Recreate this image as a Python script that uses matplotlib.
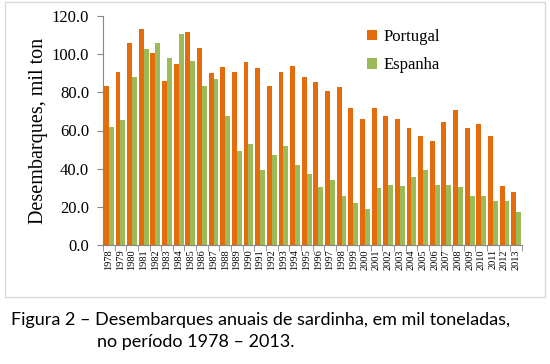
import numpy as np
import matplotlib.pyplot as plt
from matplotlib.patches import Rectangle

# Sardine landings, thousand tonnes
years = [str(y) for y in range(1978, 2014)]
portugal = [83.3, 90.8, 106.0, 113.0, 100.4, 86.0, 95.0, 111.6, 103.0, 90.0,
            93.1, 90.9, 96.0, 92.5, 83.2, 90.6, 94.0, 87.8, 85.5, 80.9,
            82.7, 71.7, 66.1, 71.7, 67.7, 66.1, 61.5, 57.3, 54.5, 64.3,
            70.6, 61.5, 63.3, 57.0, 31.1, 28.0]
espanha = [61.8, 65.7, 88.0, 102.7, 106.0, 97.8, 110.6, 96.4, 83.5, 87.2,
           67.6, 49.5, 52.8, 39.3, 46.9, 51.9, 41.8, 37.2, 30.6, 34.3,
           25.5, 21.9, 19.1, 29.7, 31.5, 31.1, 35.7, 39.3, 31.5, 31.5,
           30.2, 25.5, 25.5, 22.9, 22.9, 17.3]
yticks = [0, 20, 40, 60, 80, 100, 120]

orange = '#E46C0A'
green = '#9BBB59'
serif = 'Liberation Serif'

fig = plt.figure(figsize=(5.5, 3.64), dpi=100)

# chart frame
fig.patches.append(Rectangle((5/550, 1 - 297/364), 540/550, 295/364,
                             transform=fig.transFigure, fill=False,
                             edgecolor='#D9D9D9', linewidth=1))

ax = fig.add_axes([103/550, 1 - 245/364, 419/550, 229/364])
x = np.arange(len(years))
w = 0.42
ax.bar(x - w/2, portugal, w, color=orange, label='Portugal')
ax.bar(x + w/2, espanha, w, color=green, label='Espanha')

ax.set_xlim(-0.5, len(years) - 0.5)
ax.set_ylim(0, 120)
ax.set_yticks(yticks)
ax.set_yticklabels([f'{v:.1f}' for v in yticks], fontfamily=serif, fontsize=12)
ax.set_xticks(x)
ax.set_xticklabels(years, rotation=90, fontfamily=serif, fontsize=7.5)
ax.set_xticks(np.arange(-0.5, len(years)), minor=True)
ax.tick_params(axis='x', which='major', length=0, pad=3)
ax.tick_params(axis='x', which='minor', length=4, color='#868686', direction='out')
ax.tick_params(axis='y', length=4, color='#868686', pad=6)
for s in ['top', 'right']:
    ax.spines[s].set_visible(False)
for s in ['left', 'bottom']:
    ax.spines[s].set_color('#868686')
    ax.spines[s].set_linewidth(0.8)

ax.set_ylabel('Desembarques, mil ton', fontfamily=serif, fontsize=14.5)
ax.yaxis.set_label_coords(-(103 - 48) / 419, 0.5)

ax.legend(loc='upper left', bbox_to_anchor=(0.595, 1.01), frameon=False,
          prop={'family': serif, 'size': 12}, handlelength=0.6, handleheight=0.6,
          handletextpad=0.4, labelspacing=0.75)

fig.text(261/550, 1 - 320/364, 'Figura 2 \u2013 Desembarques anuais de sardinha, em mil toneladas,',
         ha='center', va='center', fontfamily='Lato', fontsize=13)
fig.text(97/550, 1 - 342/364, 'no per\u00edodo 1978 \u2013 2013.',
         ha='left', va='center', fontfamily='Lato', fontsize=13)

fig.savefig('out.png', dpi=100)
